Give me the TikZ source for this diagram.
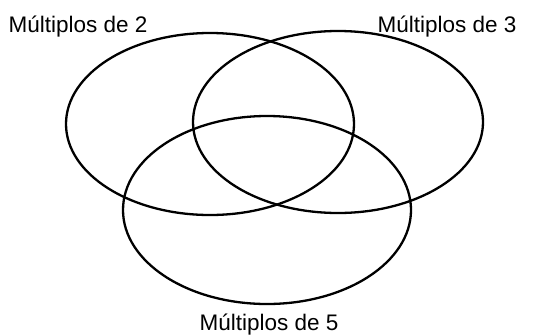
\documentclass[tikz,border=0pt]{standalone}
\usepackage{fontspec}
\setmainfont{Liberation Sans}
\begin{document}
\begin{tikzpicture}[x=1pt,y=-1pt,
  setline/.style={line width=2.3pt},
  lbl/.style={font=\fontsize{22.5}{26}\selectfont, inner sep=0pt, anchor=base}]
\useasboundingbox (0,0) rectangle (545,335);
\draw[setline] (210,124) ellipse [x radius=144, y radius=91];
\draw[setline] (338,122) ellipse [x radius=145, y radius=91];
\draw[setline] (267,210) ellipse [x radius=144, y radius=94];
\node[lbl] (l2) at (78,32) {Múltiplos de 2};
\node[lbl] (l3) at (447,32) {Múltiplos de 3};
\node[lbl] (l5) at (269,330) {Múltiplos de 5};
\end{tikzpicture}
\end{document}
